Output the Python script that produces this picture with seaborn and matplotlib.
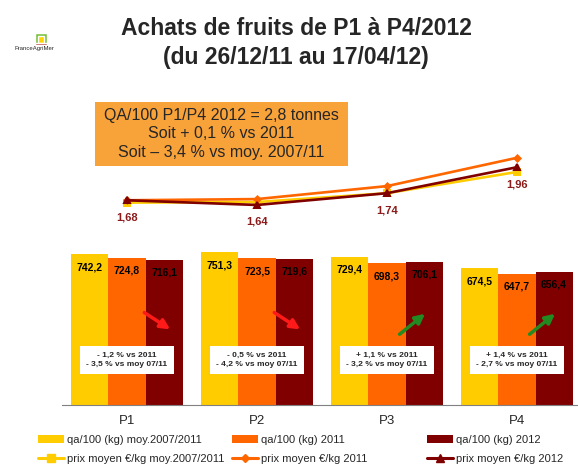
import numpy as np
import pandas as pd
import matplotlib.pyplot as plt
import matplotlib.patches as mpatches
from matplotlib.lines import Line2D
import seaborn as sns

# --- données ---
periodes = ["P1", "P2", "P3", "P4"]
series_qa = ["qa/100 (kg) moy.2007/2011", "qa/100 (kg) 2011", "qa/100 (kg) 2012"]
qa_moy = [742.2, 751.3, 729.4, 674.5]
qa_2011 = [724.8, 723.5, 698.3, 647.7]
qa_2012 = [716.1, 719.6, 706.1, 656.4]

series_prix = ["prix moyen €/kg moy.2007/2011", "prix moyen €/kg 2011", "prix moyen €/kg 2012"]
prix_moy = [1.66, 1.665, 1.74, 1.92]
prix_2011 = [1.68, 1.69, 1.80, 2.04]
prix_2012 = [1.68, 1.64, 1.74, 1.96]
labels_prix = ["1,68", "1,64", "1,74", "1,96"]

evolutions = ["- 1,2 % vs 2011\n- 3,5 % vs moy 07/11",
              "- 0,5 % vs 2011\n- 4,2 % vs moy 07/11",
              "+ 1,1 % vs 2011\n- 3,2 % vs moy 07/11",
              "+ 1,4 % vs 2011\n- 2,7 % vs moy 07/11"]
tendances = ["baisse", "baisse", "hausse", "hausse"]

titre = "Achats de fruits de P1 à P4/2012\n(du 26/12/11 au 17/04/12)"
encadre = "QA/100 P1/P4 2012 = 2,8 tonnes\nSoit + 0,1 % vs 2011\nSoit – 3,4 % vs moy. 2007/11"

couleurs = ["#FFCC00", "#FF6600", "#800000"]
marqueurs = ["s", "D", "^"]
tailles = [4.5, 3.2, 5]
rouge_label = "#8B1A1A"

df_qa = pd.DataFrame({
    "periode": periodes * 3,
    "serie": np.repeat(series_qa, len(periodes)),
    "valeur": qa_moy + qa_2011 + qa_2012,
})
prix = [prix_moy, prix_2011, prix_2012]

sns.set_style("white")
plt.rcParams["font.family"] = ["Liberation Sans", "DejaVu Sans"]

fig = plt.figure(figsize=(5.78, 4.69), dpi=100)
W, H = 578, 469
ax = fig.add_axes([62 / W, 64 / H, 520 / W, 310 / H])

# barres des quantités
sns.barplot(data=df_qa, x="periode", y="valeur", hue="serie", order=periodes,
            hue_order=series_qa, palette=couleurs, width=0.855, saturation=1,
            linewidth=0, legend=False, ax=ax)
ax.set_ylim(0, 1527)

for cont in ax.containers:
    for bar in cont:
        v = bar.get_height()
        ax.annotate(f"{v:.1f}".replace(".", ","), (bar.get_x() + bar.get_width() / 2, v),
                    xytext=(0, -13), textcoords="offset pixels", ha="center", va="center",
                    fontsize=7.5, fontweight="bold", color="black")

# flèches et encadrés d'évolution
for i, (txt, t) in enumerate(zip(evolutions, tendances)):
    if t == "baisse":
        ax.annotate("", xy=(i + 0.35, 365), xytext=(i + 0.115, 463),
                    arrowprops=dict(arrowstyle="-|>", color="#FF1A1A", lw=2.5,
                                    mutation_scale=14))
    else:
        ax.annotate("", xy=(i + 0.31, 458), xytext=(i + 0.08, 340),
                    arrowprops=dict(arrowstyle="-|>", color="#218A21", lw=2.5,
                                    mutation_scale=14))
    ax.text(i, 222, txt, ha="center", va="center", fontsize=6, fontweight="bold",
            linespacing=1.3,
            bbox=dict(boxstyle="square,pad=0.75", facecolor="white", edgecolor="none"))

# courbes des prix
ax2 = ax.twinx()
for vals, c, m, s in zip(prix, couleurs, marqueurs, tailles):
    sns.pointplot(x=periodes, y=vals, order=periodes, color=c, markers=m,
                  markersize=s, linewidth=1.9, errorbar=None, ax=ax2)
ax2.set_ylim(-0.055, 2.572)
for i, (v, lab) in enumerate(zip(prix_2012, labels_prix)):
    ax2.annotate(lab, (i, v), xytext=(0, -17), textcoords="offset pixels",
                 ha="center", va="center", fontsize=8, fontweight="bold", color=rouge_label)

# axes
for a in (ax, ax2):
    for sp in a.spines.values():
        sp.set_visible(False)
    a.set_yticks([])
    a.set_ylabel("")
    a.set_xlabel("")
ax.spines["bottom"].set_visible(True)
ax.spines["bottom"].set_color("#808080")
ax.set_xlim(-0.5, 3.5)
ax.set_xticks(np.arange(-0.5, 4, 1))
ax.set_xticklabels([])
ax.set_xticks(range(len(periodes)), minor=True)
ax.set_xticklabels(periodes, minor=True, fontsize=9.5)
ax.tick_params(axis="x", which="major", length=4, color="#808080", direction="out")
ax.tick_params(axis="x", which="minor", length=0, pad=7)

# titre et logo
fig.text(296 / W, 1 - 43 / H, titre, ha="center", va="center", fontsize=16.5,
         fontweight="bold", linespacing=1.38)
fig.patches.append(mpatches.Rectangle((35 / W, 1 - 45 / H), 12 / W, 12 / H,
                                      facecolor="#7CC242", transform=fig.transFigure))
fig.patches.append(mpatches.Rectangle((38 / W, 1 - 43 / H), 6 / W, 7 / H,
                                      facecolor="#FFD400", transform=fig.transFigure))
fig.patches.append(mpatches.Rectangle((35 / W, 1 - 45 / H), 12 / W, 2 / H,
                                      facecolor="#B0302A", transform=fig.transFigure))
fig.text(34 / W, 1 - 48.5 / H, "FranceAgriMer", ha="center", va="center", fontsize=4.3)

# encadré orange
fig.patches.append(mpatches.Rectangle((95 / W, 1 - 166 / H), 253 / W, 64 / H,
                                      facecolor="#F8A23A", edgecolor="none",
                                      transform=fig.transFigure))
fig.text(221 / W, 1 - 134 / H, encadre, ha="center", va="center", fontsize=11.5,
         linespacing=1.32)

# légende : trois colonnes
xs = [38, 232, 427]
for sq, sp, c, m, s, x in zip(series_qa, series_prix, couleurs, marqueurs, tailles, xs):
    handles = [mpatches.Patch(facecolor=c, edgecolor="none", label=sq),
               Line2D([], [], color=c, marker=m, markersize=s + 1, lw=2.2, label=sp)]
    leg = fig.legend(handles=handles, loc="upper left", bbox_to_anchor=(x / W, 1 - 435 / H),
                     frameon=False, fontsize=8, borderpad=0, borderaxespad=0,
                     handlelength=2.35, handletextpad=0.25, labelspacing=0.8)

fig.savefig("out.png", dpi=100)
